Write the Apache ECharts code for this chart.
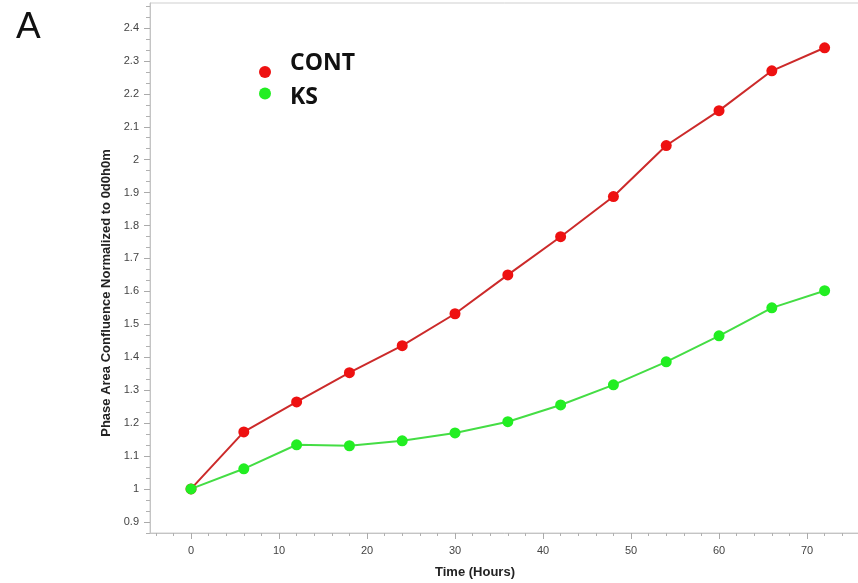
<!DOCTYPE html>
<html>
<head>
<meta charset="utf-8">
<script src="https://cdn.jsdelivr.net/npm/echarts@6/dist/echarts.min.js"></script>
<style>html,body{margin:0;padding:0;background:#fff}#c{width:858px;height:583px}</style>
</head>
<body>
<div id="c"></div>
<script>
const hours = [0, 6, 12, 18, 24, 30, 36, 42, 48, 54, 60, 66, 72];
const contValues = [1.0, 1.173, 1.264, 1.353, 1.435, 1.532, 1.650, 1.766, 1.888, 2.043, 2.149, 2.270, 2.340];
const ksValues = [1.0, 1.061, 1.134, 1.131, 1.146, 1.170, 1.204, 1.255, 1.316, 1.386, 1.465, 1.550, 1.602];
const xTicks = [0, 10, 20, 30, 40, 50, 60, 70];
const yTicks = [0.9, 1.0, 1.1, 1.2, 1.3, 1.4, 1.5, 1.6, 1.7, 1.8, 1.9, 2.0, 2.1, 2.2, 2.3, 2.4];
const seriesNames = ['CONT', 'KS'];

const xMin = -4.66, xMax = 76.36, yMin = 0.866, yMax = 2.476;

// minor ticks: x every 2 units, y every third of 0.1
const xMinor = [];
for (let v = -4; v <= 76; v += 2) { if (v % 10 !== 0) xMinor.push(v); }
const yMinor = [];
for (let i = 0; i < yTicks.length + 1; i++) {
  const base = 0.8 + i * 0.1;
  [1, 2].forEach(k => {
    const v = +(base + k * 0.1 / 3).toFixed(4);
    if (v > yMin && v < yMax) yMinor.push(v);
  });
}

const axisGray = '#c4c4c4';
const labelStyle = { color: '#444', fontSize: 11, fontFamily: 'Liberation Sans, Arial, sans-serif' };
const legendFont = { fontSize: 23, fontWeight: 'bold', color: '#111', fontFamily: 'Open Sans, sans-serif', lineHeight: 26 };

const chart = echarts.init(document.getElementById('c'), null, { renderer: 'canvas' });
chart.setOption({
  animation: false,
  backgroundColor: '#fff',
  title: {
    text: 'A', left: 11, top: 4,
    textStyle: { fontSize: 37, fontWeight: 'normal', color: '#111', fontFamily: 'Liberation Sans, Arial, sans-serif' }
  },
  legend: [{
    data: [seriesNames[0]],
    left: 254, top: 47,
    icon: 'circle', itemWidth: 12, itemHeight: 12,
    formatter: n => '{t|' + n + '}',
    textStyle: Object.assign({ rich: { t: Object.assign({ padding: [0, 0, 17, 14] }, legendFont) } }, legendFont)
  }, {
    data: [seriesNames[1]],
    left: 254, top: 73,
    icon: 'circle', itemWidth: 12, itemHeight: 12,
    formatter: n => '{t|' + n + '}',
    textStyle: Object.assign({ rich: { t: Object.assign({ padding: [8, 0, 0, 14] }, legendFont) } }, legendFont)
  }],
  grid: {
    left: 150, top: 3, bottom: 50, right: -5,
    show: true, borderColor: '#cfcfcf', borderWidth: 1,
    outerBoundsMode: 'none'
  },
  xAxis: [{
    type: 'value', min: xMin, max: xMax, position: 'bottom',
    name: 'Time (Hours)', nameLocation: 'middle', nameGap: 33,
    nameTextStyle: { fontSize: 13, fontWeight: 'bold', color: '#222', fontFamily: 'Liberation Sans, Arial, sans-serif', padding: [0, 63, 0, 0] },
    axisLine: { show: true, onZero: false, lineStyle: { color: axisGray, width: 1 } },
    axisTick: { show: true, customValues: xTicks, length: 6, lineStyle: { color: '#aaa' } },
    axisLabel: Object.assign({ customValues: xTicks, margin: 12 }, labelStyle),
    splitLine: { show: false }
  }, {
    type: 'value', min: xMin, max: xMax, position: 'bottom',
    axisLine: { show: false, onZero: false },
    axisTick: { show: true, customValues: xMinor, length: 3, lineStyle: { color: '#b0b0b0' } },
    axisLabel: { show: false },
    splitLine: { show: false }
  }],
  yAxis: [{
    type: 'value', min: yMin, max: yMax, position: 'left',
    name: 'Phase Area Confluence Normalized to 0d0h0m', nameLocation: 'middle', nameGap: 36,
    nameTextStyle: { fontSize: 13, fontWeight: 'bold', color: '#222', fontFamily: 'Liberation Sans, Arial, sans-serif', padding: [0, 50, 0, 0] },
    axisLine: { show: true, onZero: false, lineStyle: { color: axisGray, width: 1 } },
    axisTick: { show: true, customValues: yTicks, length: 6, lineStyle: { color: '#aaa' } },
    axisLabel: Object.assign({ customValues: yTicks, margin: 11, formatter: v => String(+v.toFixed(2)) }, labelStyle),
    splitLine: { show: false }
  }, {
    type: 'value', min: yMin, max: yMax, position: 'left',
    axisLine: { show: false, onZero: false },
    axisTick: { show: true, customValues: yMinor, length: 4, lineStyle: { color: '#b0b0b0' } },
    axisLabel: { show: false },
    splitLine: { show: false }
  }],
  series: [{
    name: seriesNames[0], type: 'line', xAxisIndex: 0, yAxisIndex: 0,
    data: hours.map((h, i) => [h, contValues[i]]),
    symbol: 'circle', symbolSize: 11,
    lineStyle: { color: '#cc2a2a', width: 2 },
    itemStyle: { color: '#ee1111' }
  }, {
    name: seriesNames[1], type: 'line', xAxisIndex: 0, yAxisIndex: 0,
    data: hours.map((h, i) => [h, ksValues[i]]),
    symbol: 'circle', symbolSize: 11,
    lineStyle: { color: '#44dd44', width: 2 },
    itemStyle: { color: '#22ee22' }
  }]
});
</script>
</body>
</html>
